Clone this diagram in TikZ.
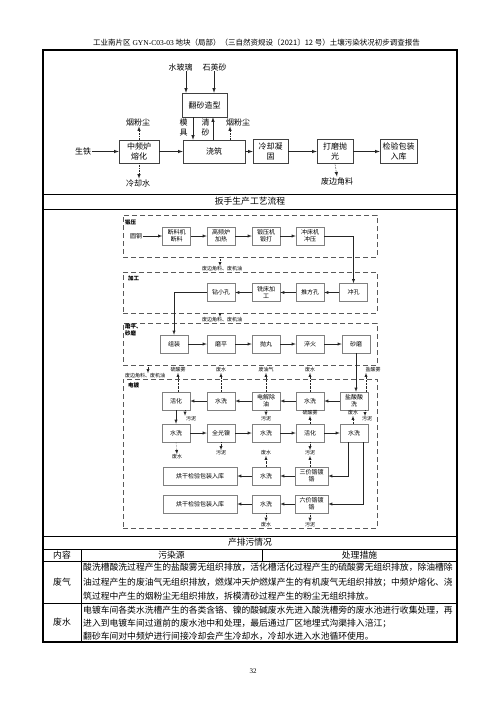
\documentclass[tikz,border=0pt]{standalone}
\usepackage{fontspec}
\setmainfont{Liberation Serif}
\newfontfamily\cjk{Noto Sans CJK SC}
\usetikzlibrary{arrows.meta}

\tikzset{
  bigbox/.style={draw=black!75, line width=0.5pt, align=center, inner sep=1pt, font=\cjk\fontsize{8}{9.5}\selectfont},
  txt/.style={inner sep=0.5pt, font=\cjk\fontsize{8}{9.5}\selectfont},
  smbox/.style={draw=black!50, line width=0.5pt, minimum width=28pt, minimum height=18pt, align=center, inner sep=0.5pt, font=\cjk\fontsize{6}{7}\selectfont},
  smtxt/.style={inner sep=0.3pt, font=\cjk\fontsize{5}{6}\selectfont},
  frame/.style={draw=black!65, line width=0.9pt, dash pattern=on 5pt off 3pt},
  framelbl/.style={anchor=north west, inner sep=0pt, align=left, font=\cjk\bfseries\fontsize{5.5}{6.5}\selectfont},
  flow/.style={->, draw=black!85, line width=0.6pt},
  sflow/.style={->, draw=black!85, line width=0.45pt},
  emit/.style={->, draw=black!85, line width=0.6pt, densely dotted},
  semit/.style={->, draw=black!85, line width=0.45pt, densely dotted},
  cell/.style={anchor=west, inner sep=0pt, font=\cjk\fontsize{8.8}{10}\selectfont},
}

\begin{document}
\begin{tikzpicture}[x=1pt,y=-1pt,>=latex]
  \useasboundingbox (0,0) rectangle (500,707);

  % page header and table frame
  \node[inner sep=0pt, font=\fontsize{7.5}{9}\selectfont] (hdr) at (256.5,43)
    {{\cjk 工业南片区} GYN-C03-03 {\cjk 地块（局部）（三自然资规设〔2021〕12 号）土壤污染状况初步调查报告}};
  \draw[line width=1.2pt] (43,50) rectangle (457,642);
  \draw[line width=0.6pt] (43,194) -- (457,194);
  \draw[line width=0.6pt] (43,209) -- (457,209);
  \draw[line width=0.6pt] (43,536) -- (457,536);
  \draw[line width=0.6pt] (43,549) -- (457,549);
  \draw[line width=0.6pt] (43,561) -- (457,561);
  \draw[line width=0.6pt] (43,603) -- (457,603);
  \draw[line width=0.6pt] (81,549) -- (81,642);
  \draw[line width=0.6pt] (262,549) -- (262,561);

  % casting flow
  \node[txt] (shengtie) at (83,151.5) {生铁};
  \node[bigbox, minimum width=40pt, minimum height=23pt] (zpl) at (139,151.5) {中频炉\\熔化};
  \node[txt] (yfc1) at (138,122) {烟粉尘};
  \node[txt] (lqs) at (138,183) {冷却水};
  \node[bigbox, minimum width=62pt, minimum height=23pt] (jz) at (214,151.5) {浇筑};
  \node[bigbox, minimum width=45pt, minimum height=24pt] (fszx) at (204.5,105) {翻砂造型};
  \node[txt] (sbl) at (180.5,67) {水玻璃};
  \node[txt] (syd) at (214.5,67) {石英砂};
  \node[txt, align=center] (mj) at (183.5,127.5) {模\\具};
  \node[txt, align=center] (qs) at (205.5,127.5) {清\\砂};
  \node[txt] (yfc2) at (238,122) {烟粉尘};
  \node[bigbox, minimum width=35pt, minimum height=24pt] (lqng) at (270.5,151.5) {冷却凝\\固};
  \node[bigbox, minimum width=36pt, minimum height=24pt] (dmpg) at (335,151.5) {打磨抛\\光};
  \node[bigbox, minimum width=37pt, minimum height=24pt] (jybz) at (398.5,151.5) {检验包装\\入库};
  \node[txt] (fbjl) at (337,181) {废边角料};

  \draw[flow] ([xshift=5.5pt]sbl.south) -- ([xshift=5.5pt]sbl.south |- fszx.north);
  \draw[flow] ([xshift=-0.5pt]syd.south) -- ([xshift=-0.5pt]syd.south |- fszx.north);
  \draw[flow] ([xshift=-11.5pt]fszx.south) -- ([xshift=-11.5pt]fszx.south |- jz.north);
  \draw[flow] ([xshift=8.5pt]fszx.south |- jz.north) -- ([xshift=8.5pt]fszx.south);
  \draw[emit] ([xshift=16pt]jz.north) -- ([xshift=16pt]jz.north |- yfc2.south);
  \draw[emit] (zpl.north) -- (zpl.north |- yfc1.south);
  \draw[emit] (zpl.south) -- (zpl.south |- lqs.north);
  \draw[flow] (shengtie) -- (zpl);
  \draw[flow] (zpl) -- (jz);
  \draw[flow] (jz) -- (lqng);
  \draw[flow] (lqng) -- (dmpg);
  \draw[flow] (dmpg) -- (jybz);
  \draw[emit] (dmpg.south) -- (fbjl.north);

  \node[inner sep=0pt, font=\cjk\fontsize{8.8}{10}\selectfont] (cap1) at (250,201.5) {扳手生产工艺流程};

  % wrench flow: frames
  \node[frame, minimum width=254pt, minimum height=42pt] (fdy) at (250,236) {};
  \node[frame, minimum width=254pt, minimum height=41pt] (fjg) at (250,292.5) {};
  \node[frame, minimum width=254pt, minimum height=42pt] (fmp) at (250,344) {};
  \node[frame, minimum width=254pt, minimum height=149pt] (fdd) at (250,453.5) {};
  \node[framelbl] (ldy) at (125,220) {锻压};
  \node[framelbl] (ljg) at (128,276) {加工};
  \node[framelbl] (lmp) at (125,324) {磨平、\\砂磨};
  \node[framelbl] (ldd) at (128,383) {电镀};

  % forging
  \node[inner sep=0.5pt, font=\cjk\fontsize{6}{7}\selectfont] (yg) at (136,236) {圆钢};
  \node[smbox] (dlj) at (176.5,236) {断料机\\断料};
  \node[smbox] (gpl) at (221,236) {高频炉\\加热};
  \node[smbox] (dyj) at (266,236) {锻压机\\锻打};
  \node[smbox] (ccj) at (310,236) {冲床机\\冲压};
  \draw[sflow] (yg) -- (dlj);
  \draw[sflow] (dlj) -- (gpl);
  \draw[sflow] (gpl) -- (dyj);
  \draw[sflow] (dyj) -- (ccj);
  \node[smtxt] (fj1) at (222,269) {废边角料、废机油};
  \draw[semit] ([xshift=-30pt]fdy.south) -- ([xshift=-30pt]fdy.south |- fj1.north);

  % machining
  \node[smbox] (ck) at (353.5,292.5) {冲孔};
  \node[smbox] (tfk) at (310,292.5) {推方孔};
  \node[smbox] (xc) at (266,292.5) {铣床加\\工};
  \node[smbox] (zxk) at (221,292.5) {钻小孔};
  \draw[sflow] (ccj.east) -| (ck.north);
  \draw[sflow] (ck) -- (tfk);
  \draw[sflow] (tfk) -- (xc);
  \draw[sflow] (xc) -- (zxk);
  \node[smtxt] (fj2) at (222,320) {废边角料、废机油};
  \draw[semit] ([xshift=-30pt]fjg.south) -- ([xshift=-30pt]fjg.south |- fj2.north);

  % grinding
  \node[smbox] (zz) at (174,344) {组装};
  \node[smbox] (mp) at (221,344) {磨平};
  \node[smbox] (pw) at (266,344) {抛丸};
  \node[smbox] (ch) at (310,344) {淬火};
  \node[smbox] (sm) at (356,344) {砂磨};
  \draw[sflow] (zxk.west) -| (zz.north);
  \draw[sflow] (zz) -- (mp);
  \draw[sflow] (mp) -- (pw);
  \draw[sflow] (pw) -- (ch);
  \draw[sflow] (ch) -- (sm);
  \node[smtxt] (fj3) at (145,376) {废边角料、废机油};
  \draw[semit] ([xshift=-102pt]fmp.south) -- ([xshift=-102pt]fmp.south |- fj3.north);

  % plating
  \node[smbox] (hh1) at (176,401) {活化};
  \node[smbox] (sx1) at (221,401) {水洗};
  \node[smbox] (djcy) at (266,401) {电解除\\油};
  \node[smbox] (sx2) at (310,401) {水洗};
  \node[smbox] (ysjx) at (354,401) {盐酸酸\\洗};
  \node[smtxt] (lsw1) at (178,370) {硫酸雾};
  \node[smtxt] (fs1) at (221,370) {废水};
  \node[smtxt] (fyq) at (266,370) {废油气};
  \node[smtxt] (fs2) at (310,370) {废水};
  \node[smtxt] (ysw) at (373,370) {盐酸雾};
  \draw[sflow] (sm.south) -- (sm.south |- ysjx.north);
  \draw[sflow] (ysjx) -- (sx2);
  \draw[sflow] (sx2) -- (djcy);
  \draw[sflow] (djcy) -- (sx1);
  \draw[sflow] (sx1) -- (hh1);
  \draw[semit] ([xshift=2pt]hh1.north) -- ([xshift=2pt]hh1.north |- lsw1.south);
  \draw[semit] (sx1.north) -- (fs1.south);
  \draw[semit] (djcy.north) -- (fyq.south);
  \draw[semit] (sx2.north) -- (fs2.south);
  \draw[semit] ([xshift=12pt]ysjx.north) -- ([xshift=12pt]ysjx.north |- ysw.south);

  \node[smbox] (sx3) at (176,433) {水洗};
  \node[smbox] (qgn) at (221,433) {全光镍};
  \node[smbox] (sx4) at (266,433) {水洗};
  \node[smbox] (hh2) at (310,433) {活化};
  \node[smbox] (sx5) at (354,433) {水洗};
  \draw[sflow] (hh1) -- (sx3);
  \draw[sflow] (sx3) -- (qgn);
  \draw[sflow] (qgn) -- (sx4);
  \draw[sflow] (sx4) -- (hh2);
  \draw[sflow] (hh2) -- (sx5);
  \node[smtxt] (wn1) at (191,418.5) {污泥};
  \node[smtxt] (wn2) at (266,418.5) {污泥};
  \node[smtxt] (lsw2) at (310,413) {硫酸雾};
  \node[smtxt] (fs3) at (353,413) {废水};
  \node[smtxt] (wn3) at (367,419) {污泥};
  \draw[semit] ([xshift=9pt]hh1.south) -- ([xshift=9pt]hh1.south |- wn1.north);
  \draw[semit] (djcy.south) -- (wn2.north);
  \draw[semit] (hh2.north) -- (lsw2.south);
  \draw[semit] ([xshift=-1pt]sx5.north) -- ([xshift=-1pt]sx5.north |- fs3.south);
  \draw[semit] ([xshift=11pt]ysjx.south) -- ([xshift=11pt]ysjx.south |- wn3.north);

  \node[smbox, minimum width=74pt] (hgjy1) at (200,476) {烘干检验包装入库};
  \node[smbox] (sx6) at (266,476) {水洗};
  \node[smbox, minimum width=33pt] (sjg) at (311.5,476) {三价铬镀\\铬};
  \node[smbox, minimum width=74pt] (hgjy2) at (200,504) {烘干检验包装入库};
  \node[smbox] (sx7) at (266,504) {水洗};
  \node[smbox, minimum width=33pt] (ljg6) at (311.5,504) {六价铬镀\\铬};
  \draw[sflow] ([xshift=-6pt]sx5.south) |- (sjg.east);
  \draw[sflow] ([xshift=9pt]sx5.south) |- (ljg6.east);
  \draw[sflow] (sjg) -- (sx6);
  \draw[sflow] (sx6) -- (hgjy1);
  \draw[sflow] (ljg6) -- (sx7);
  \draw[sflow] (sx7) -- (hgjy2);
  \node[smtxt] (fs4) at (177,457) {废水};
  \node[smtxt] (wn4) at (221,453) {污泥};
  \node[smtxt] (fs5) at (266,453) {废水};
  \node[smtxt] (wn5) at (310,453) {污泥};
  \node[smtxt] (fs6) at (266,524.5) {废水};
  \node[smtxt] (wn6) at (310,524.5) {污泥};
  \draw[semit] (sx3.south) -- (fs4.north);
  \draw[semit] (qgn.south) -- (wn4.north);
  \draw[semit] (sx6.north) -- (fs5.south);
  \draw[semit] (hh2.south) -- (wn5.north);
  \draw[semit] (sjg.north -| wn5) -- (wn5.south);
  \draw[semit] (sx7.south) -- (fs6.north);
  \draw[semit] (ljg6.south -| wn6) -- (wn6.north);

  % pollution table
  \node[inner sep=0pt, font=\cjk\fontsize{8.8}{10}\selectfont] (cap2) at (250,542.5) {产排污情况};
  \node[inner sep=0pt, font=\cjk\fontsize{8.8}{10}\selectfont] (thnr) at (62,555) {内容};
  \node[inner sep=0pt, font=\cjk\fontsize{8.8}{10}\selectfont] (thwr) at (171.5,555) {污染源};
  \node[inner sep=0pt, font=\cjk\fontsize{8.8}{10}\selectfont] (thcl) at (359.5,555) {处理措施};
  \node[inner sep=0pt, font=\cjk\fontsize{8.8}{10}\selectfont] (fq) at (62,582) {废气};
  \node[inner sep=0pt, font=\cjk\fontsize{8.8}{10}\selectfont] (fsr) at (62,622.5) {废水};
  \node[cell] (fq1) at (83,567.5) {酸洗槽酸洗过程产生的盐酸雾无组织排放，活化槽活化过程产生的硫酸雾无组织排放，除油槽除};
  \node[cell] (fq2) at (83,582) {油过程产生的废油气无组织排放，燃煤冲天炉燃煤产生的有机废气无组织排放；中频炉熔化、浇};
  \node[cell] (fq3) at (83,596.5) {筑过程中产生的烟粉尘无组织排放，拆模清砂过程产生的粉尘无组织排放。};
  \node[cell] (fs1r) at (83,610) {电镀车间各类水洗槽产生的各类含铬、镍的酸碱废水先进入酸洗槽旁的废水池进行收集处理，再};
  \node[cell] (fs2r) at (83,623) {进入到电镀车间过道前的废水池中和处理，最后通过厂区地埋式沟渠排入涪江；};
  \node[cell] (fs3r) at (83,636) {翻砂车间对中频炉进行间接冷却会产生冷却水，冷却水进入水池循环使用。};

  \node[inner sep=0pt, font=\fontsize{7}{8}\selectfont] (pgno) at (253,671) {32};
\end{tikzpicture}
\end{document}
